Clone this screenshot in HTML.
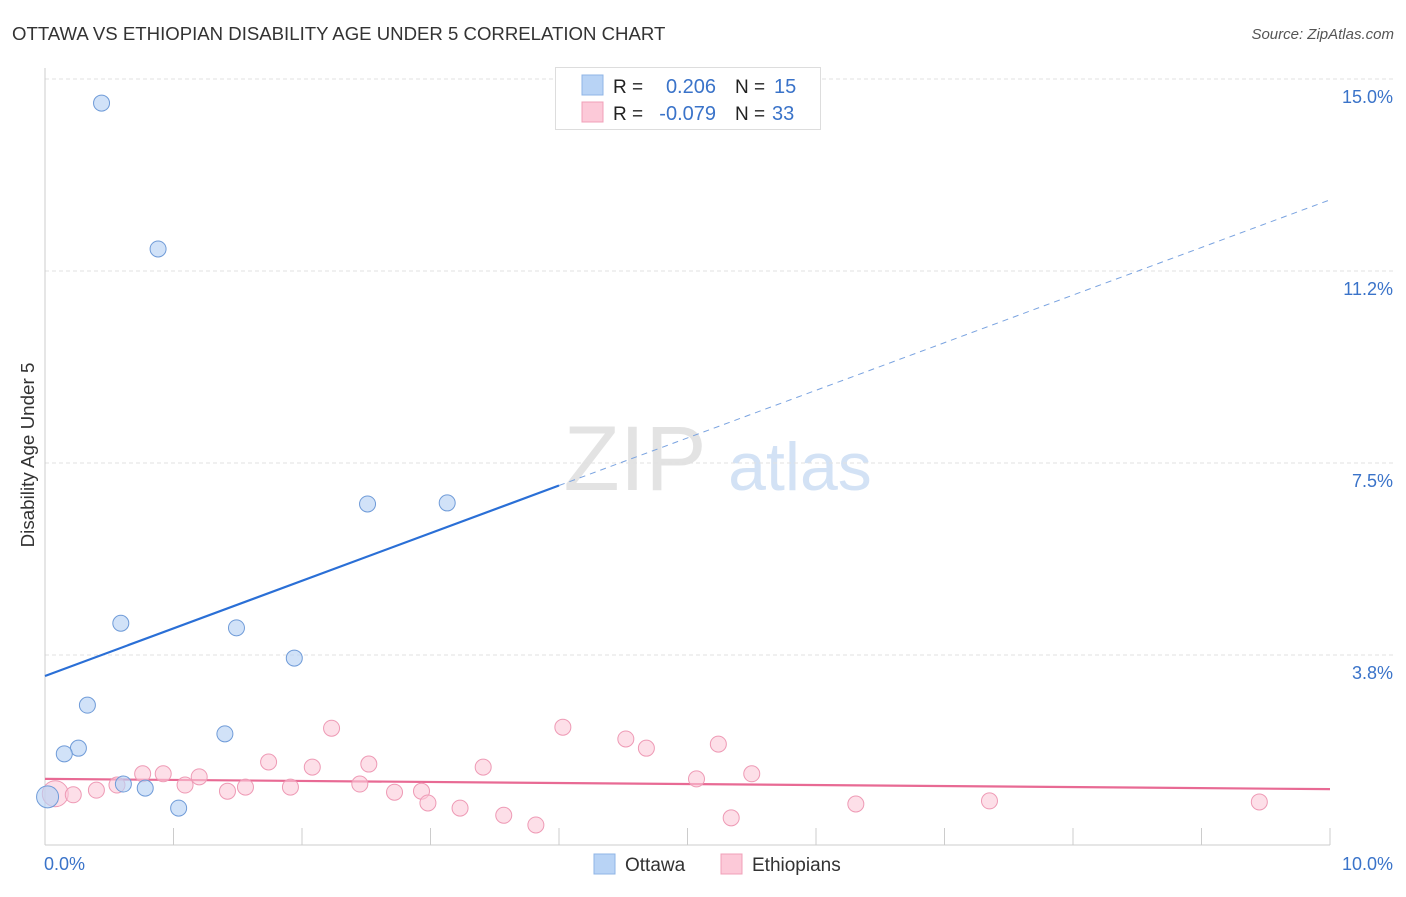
<!DOCTYPE html>
<html><head><meta charset="utf-8"><style>
body{margin:0;background:#fff;font-family:"Liberation Sans",sans-serif;}
svg text{font-family:"Liberation Sans",sans-serif;}
</style></head><body>
<svg id="c" width="1406" height="892" xmlns="http://www.w3.org/2000/svg">
<text x="12" y="40" font-size="18.6" fill="#333">OTTAWA VS ETHIOPIAN DISABILITY AGE UNDER 5 CORRELATION CHART</text>
<text x="1394" y="39" font-size="15" fill="#555" font-style="italic" text-anchor="end">Source: ZipAtlas.com</text>
<text x="34" y="455" font-size="18.8" fill="#333" text-anchor="middle" transform="rotate(-90 34 455)">Disability Age Under 5</text>
<g><text x="635" y="490" font-size="92" fill="#ddd" font-family="Liberation Serif" text-anchor="middle" opacity="0.8">ZIP</text><text x="800" y="490" font-size="68" fill="#c9dcf3" text-anchor="middle" opacity="0.8">atlas</text></g>
<g id="grid"></g><g id="axes"></g><g id="lines"></g><g id="pts"></g>
<g>
<rect x="555.5" y="67.5" width="265" height="62" fill="#fff" stroke="#ddd"/>
<rect x="582" y="75" width="21" height="20" fill="#b8d3f5" stroke="#8fb4e6"/>
<rect x="582" y="102" width="21" height="20" fill="#fcc9d8" stroke="#f0a0b8"/>
<text x="613" y="93" font-size="19" fill="#222">R =</text><text x="716" y="93" font-size="20" fill="#3a73c9" text-anchor="end">0.206</text>
<text x="735" y="93" font-size="19" fill="#222">N =</text><text x="774" y="93" font-size="20" fill="#3a73c9">15</text>
<text x="613" y="120" font-size="19" fill="#222">R =</text><text x="716" y="120" font-size="20" fill="#3a73c9" text-anchor="end">-0.079</text>
<text x="735" y="120" font-size="19" fill="#222">N =</text><text x="772" y="120" font-size="20" fill="#3a73c9">33</text>
</g>
<g>
<rect x="594" y="854" width="21" height="20" fill="#b8d3f5" stroke="#8fb4e6"/><text x="625" y="871" font-size="19" fill="#333">Ottawa</text>
<rect x="721" y="854" width="21" height="20" fill="#fcc9d8" stroke="#f0a0b8"/><text x="752" y="871" font-size="19" fill="#333">Ethiopians</text>
</g>
</svg>
<script>
const yTicks=[3.75,7.5,11.25,15];
const yTickLabels=["3.8%","7.5%","11.2%","15.0%"];
const xTickLabels=["0.0%","10.0%"];
const ottawaX=[0.44,0.88,2.51,3.13,0.59,1.49,1.94,0.33,1.40,0.26,0.15,0.61,0.78,1.04,0.02];
const ottawaY=[14.53,11.68,6.70,6.72,4.37,4.28,3.69,2.77,2.21,1.93,1.82,1.23,1.15,0.76,0.98];
const ethX=[0.08,0.22,0.40,0.56,0.76,0.92,1.09,1.20,1.42,1.56,1.74,1.91,2.08,2.23,2.45,2.52,2.72,2.93,2.98,3.23,3.41,3.57,3.82,4.03,4.52,4.68,5.07,5.24,5.34,5.50,6.31,7.35,9.45];
const ethY=[1.04,1.02,1.11,1.21,1.43,1.43,1.21,1.37,1.09,1.17,1.66,1.17,1.56,2.32,1.23,1.62,1.07,1.09,0.86,0.76,1.56,0.62,0.43,2.34,2.11,1.93,1.33,2.01,0.57,1.43,0.84,0.90,0.88];
const ottawaTrend=[3.34,12.64]; const ottawaSolidEnd=4.0;
const ethTrend=[1.33,1.13];
const NS="http://www.w3.org/2000/svg";
const X=v=>45+v*128.5, Y=v=>79+(15-v)*51.2;
function mk(p,t,a){const e=document.createElementNS(NS,t);for(const k in a)e.setAttribute(k,a[k]);document.getElementById(p).appendChild(e);return e;}
yTicks.forEach((t,i)=>{
 const g=mk('grid','line',{x1:45,x2:1395,y1:Y(t),y2:Y(t),stroke:'#e2e2e2','stroke-dasharray':'4,3'});
 
 
 const l=mk('grid','text',{x:1393,y:Y(t)+24,'font-size':18,fill:'#3a73c9','text-anchor':'end'});l.textContent=yTickLabels[i];
 
 
});
const ax=mk('axes','line',{x1:45,x2:45,y1:68,y2:845,stroke:'#ccc'});


const bx=mk('axes','line',{x1:45,x2:1330,y1:845,y2:845,stroke:'#ccc'});


for(let i=0;i<=10;i++){const t=mk('axes','line',{x1:X(i),x2:X(i),y1:828,y2:845,stroke:'#ccc'});
 
 }
[[0,'start',44],[10,'end',1393]].forEach((d,i)=>{const l=mk('axes','text',{x:d[2],y:870,'font-size':18,fill:'#3a73c9','text-anchor':d[1]});l.textContent=xTickLabels[i];
 
 });
const oy=x=>ottawaTrend[0]+(ottawaTrend[1]-ottawaTrend[0])*x/10;
let L=mk('lines','line',{x1:X(0),y1:Y(oy(0)),x2:X(ottawaSolidEnd),y2:Y(oy(ottawaSolidEnd)),stroke:'#2a6fd6','stroke-width':2.2});


L=mk('lines','line',{x1:X(ottawaSolidEnd),y1:Y(oy(ottawaSolidEnd)),x2:X(10),y2:Y(oy(10)),stroke:'#7aa3e0','stroke-width':1,'stroke-dasharray':'6,5'});


L=mk('lines','line',{x1:X(0),y1:Y(ethTrend[0]),x2:X(10),y2:Y(ethTrend[1]),stroke:'#e86a94','stroke-width':2.2});


ethX.forEach((x,i)=>{const c=mk('pts','circle',{cx:X(x),cy:Y(ethY[i]),r:i==0?13:8,fill:'#fcc9d8','fill-opacity':0.6,stroke:'#ee9ab5','stroke-width':1});
 
 });
ottawaX.forEach((x,i)=>{const c=mk('pts','circle',{cx:X(x),cy:Y(ottawaY[i]),r:i==14?11:8,fill:'#b8d3f5','fill-opacity':0.65,stroke:'#6f9bd8','stroke-width':1});
 
 });
</script>
</body></html>
